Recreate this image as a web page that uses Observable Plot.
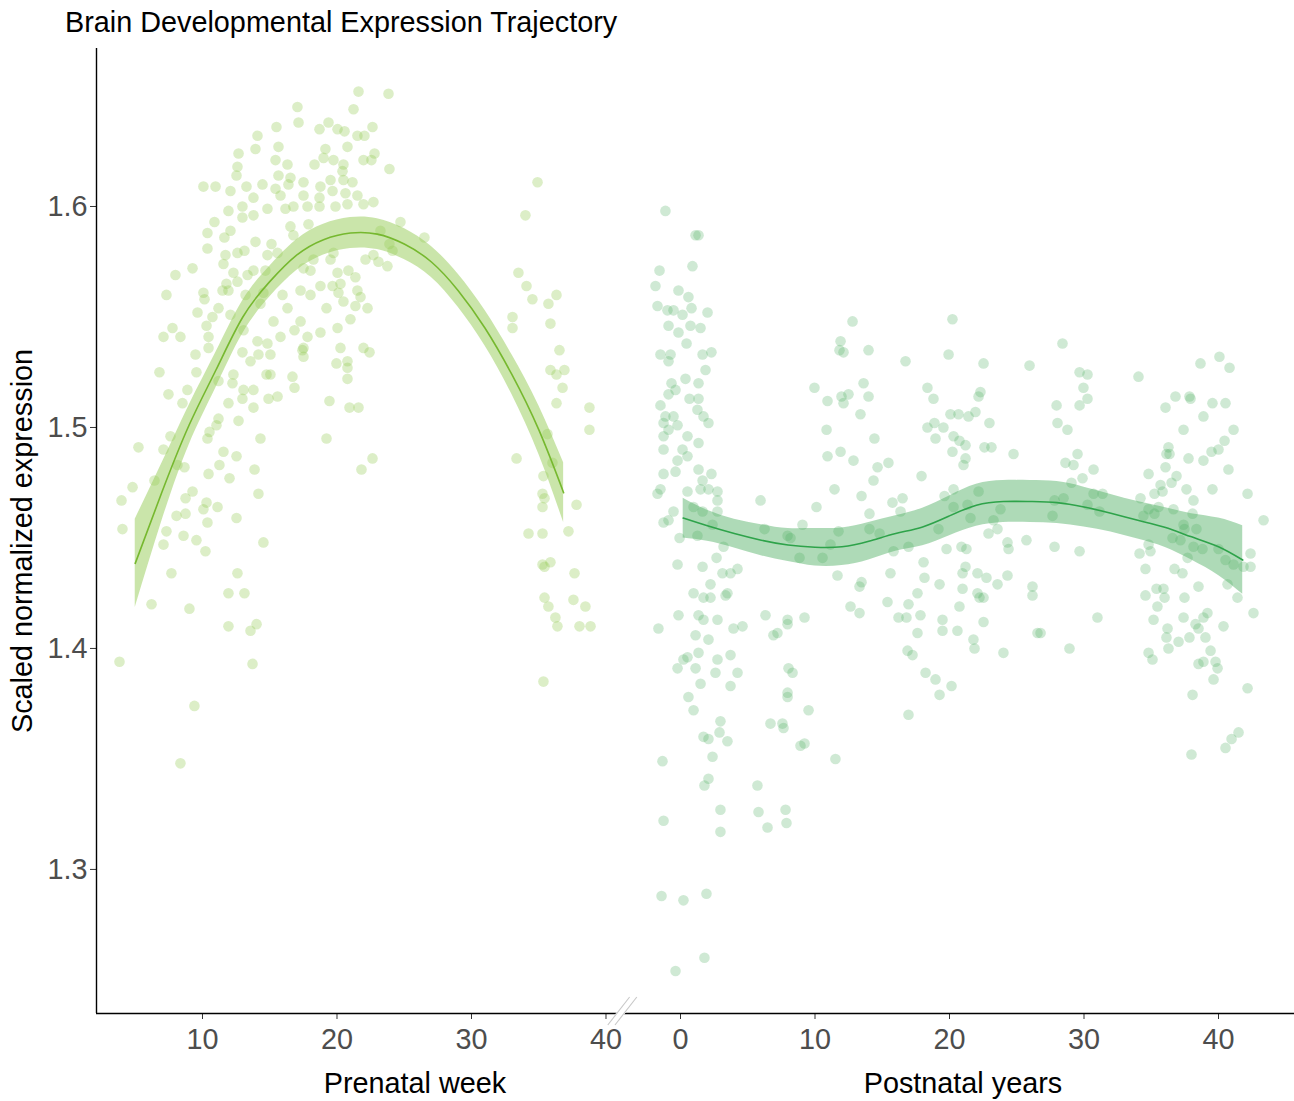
<!DOCTYPE html>
<html>
<head>
<meta charset="utf-8">
<script src="https://cdn.jsdelivr.net/npm/d3@7"></script>
<script src="https://cdn.jsdelivr.net/npm/@observablehq/plot@0.6"></script>
<style>
  body { margin: 0; background: #fff; font-family: "Liberation Sans", Arial, Helvetica, sans-serif; }
  #title { height: 44px; line-height: 44px; padding-left: 65px; font-size: 28.8px; color: #000; white-space: nowrap; }
  #chart svg { display: block; }
</style>
</head>
<body>
<div id="title">Brain Developmental Expression Trajectory</div>
<div id="chart"></div>
<script>
// ---- text ----
const yTitle = "Scaled normalized expression";
const prenatalTitle = "Prenatal week";
const postnatalTitle = "Postnatal years";

// ---- ticks ----
const yTickValues = [1.3, 1.4, 1.5, 1.6];
const prenatalTicks = [10, 20, 30, 40];
const postnatalTicks = [0, 10, 20, 30, 40];

// ---- prenatal samples: [week, scaled expression] ----
const prenatalSamples = [
  [21.6,1.652],[23.83,1.651],[21.23,1.644],[17.06,1.645],[17.14,1.638],[15.5,1.636],[14.09,1.632],[13.94,1.626],[15.65,1.627],[12.68,1.624],
  [12.6,1.618],[12.53,1.614],[18.7,1.635],[19.37,1.638],[20.04,1.635],[20.56,1.634],[22.64,1.636],[21.52,1.632],[22.04,1.632],[19.14,1.626],
  [20.78,1.627],[22.79,1.624],[19.0,1.622],[19.74,1.621],[21.97,1.621],[22.56,1.621],[23.9,1.617],[15.43,1.621],[16.32,1.619],[18.33,1.619],
  [20.48,1.619],[20.41,1.616],[15.65,1.614],[16.54,1.613],[10.07,1.609],[10.97,1.609],[12.08,1.607],[13.27,1.609],[14.46,1.61],[15.43,1.608],
  [16.39,1.61],[17.51,1.611],[18.77,1.609],[19.52,1.612],[20.48,1.612],[21.15,1.611],[15.8,1.605],[17.51,1.605],[18.7,1.604],[19.67,1.607],
  [20.63,1.606],[21.52,1.605],[13.79,1.604],[14.83,1.599],[11.93,1.598],[12.97,1.6],[12.97,1.595],[13.79,1.596],[16.17,1.599],[16.76,1.6],
  [17.81,1.6],[18.7,1.6],[19.89,1.6],[20.78,1.601],[21.97,1.601],[22.71,1.602],[10.89,1.593],[12.08,1.589],[11.63,1.586],[10.37,1.588],
  [10.37,1.581],[13.94,1.584],[15.13,1.583],[16.54,1.591],[17.88,1.592],[16.76,1.587],[15.58,1.579],[14.83,1.578],[11.71,1.578],[12.6,1.579],
  [13.12,1.58],[11.56,1.574],[9.26,1.572],[7.99,1.569],[7.32,1.56],[10.07,1.561],[10.15,1.558],[12.3,1.57],[13.35,1.569],[13.79,1.571],
  [14.68,1.571],[17.51,1.572],[18.03,1.571],[18.25,1.576],[19.74,1.579],[19.52,1.576],[20.04,1.57],[20.85,1.571],[21.37,1.568],[22.12,1.576],
  [22.71,1.578],[23.75,1.573],[11.78,1.565],[12.6,1.566],[11.49,1.562],[11.93,1.562],[13.2,1.56],[14.31,1.556],[14.53,1.561],[15.95,1.56],
  [17.29,1.562],[18.03,1.56],[18.77,1.564],[19.67,1.564],[20.26,1.565],[20.11,1.561],[21.52,1.562],[21.75,1.559],[22.27,1.554],[20.48,1.557],
  [21.37,1.555],[11.19,1.554],[9.63,1.552],[10.3,1.546],[10.74,1.55],[12.08,1.551],[15.28,1.548],[16.32,1.554],[17.29,1.548],[19.22,1.554],
  [21.0,1.549],[7.77,1.545],[7.1,1.541],[8.36,1.541],[10.45,1.541],[13.05,1.544],[14.09,1.539],[14.83,1.538],[15.8,1.541],[16.84,1.544],
  [17.81,1.541],[18.77,1.543],[20.04,1.545],[21.97,1.536],[22.42,1.534],[9.48,1.533],[10.45,1.536],[12.97,1.534],[14.16,1.533],[15.05,1.533],
  [17.43,1.535],[20.26,1.536],[23.9,1.583],[26.5,1.586],[23.23,1.589],[24.13,1.58],[24.72,1.593],[23.08,1.575],
  [34.91,1.611],[34.01,1.596],[33.49,1.57],[34.09,1.564],[34.53,1.558],[35.72,1.556],[36.32,1.56],[33.05,1.55],[33.05,1.545],[35.87,1.547],
  [36.54,1.535],[35.87,1.526],[36.91,1.526],[36.32,1.524],[36.77,1.518],[36.32,1.511],[38.77,1.509],[38.77,1.499],[33.35,1.486],[35.65,1.497],
  [36.02,1.484],[35.35,1.478],[35.28,1.47],[35.43,1.468],[35.28,1.464],[37.81,1.465],[34.24,1.452],[35.28,1.452],[37.21,1.453],[35.28,1.438],
  [35.87,1.439],[35.43,1.437],[37.66,1.434],[35.43,1.423],[35.72,1.419],[37.58,1.422],[38.47,1.419],[36.24,1.414],[36.39,1.41],[38.03,1.41],
  [38.85,1.41],[35.35,1.385],
  [6.8,1.525],[9.55,1.525],[7.47,1.515],[8.88,1.517],[8.51,1.511],[5.24,1.491],[7.1,1.49],[7.62,1.496],[6.43,1.476],[4.8,1.473],
  [3.98,1.467],[4.05,1.454],[8.66,1.482],[8.14,1.483],[10.37,1.495],[10.52,1.498],[11.04,1.501],[11.19,1.504],[11.56,1.489],[12.53,1.487],
  [11.26,1.483],[10.45,1.479],[12.01,1.477],[12.68,1.503],[13.87,1.481],[14.31,1.495],[14.16,1.47],[9.26,1.471],[8.74,1.468],[8.07,1.46],
  [8.74,1.461],[10.07,1.463],[10.3,1.466],[11.12,1.464],[10.37,1.457],[12.53,1.459],[7.32,1.453],[8.59,1.451],[7.1,1.447],[9.55,1.449],
  [10.22,1.444],[14.53,1.448],[7.69,1.434],[12.6,1.434],[11.93,1.425],[13.12,1.425],[6.21,1.42],[9.03,1.418],[11.93,1.41],[14.02,1.411],
  [13.57,1.408],[3.83,1.394],[13.72,1.393],[9.4,1.374],[8.36,1.348],
  [11.93,1.511],[12.97,1.513],[13.79,1.509],[14.91,1.513],[15.58,1.514],[13.05,1.517],[13.79,1.517],[12.23,1.52],[12.3,1.524],[11.19,1.521],
  [15.05,1.524],[16.69,1.523],[16.84,1.518],[19.44,1.512],[19.22,1.495],[20.93,1.509],[21.6,1.509],[19.96,1.529],[20.78,1.53],[20.78,1.527],
  [20.78,1.522],[21.82,1.481],[22.64,1.486],[17.51,1.536],[17.51,1.532],[13.57,1.53],[14.76,1.524]
];

// ---- postnatal samples: [years, scaled expression] ----
const postnatalSamples = [
  [-1.12,1.598],[1.12,1.587],[1.34,1.587],[-1.56,1.571],[0.89,1.573],[-1.86,1.564],[-0.15,1.562],[0.59,1.559],[-1.71,1.555],[-0.97,1.553],
  [-0.52,1.553],[0.15,1.551],[0.82,1.554],[2.01,1.552],[-0.89,1.546],[-0.15,1.543],[0.74,1.546],[1.49,1.545],[0.45,1.538],[-1.49,1.533],
  [-0.74,1.533],[-0.89,1.53],[1.64,1.533],[2.3,1.534],[1.86,1.526],[-0.67,1.52],[0.37,1.522],[1.34,1.52],[-0.89,1.515],[-0.37,1.517],
  [0.67,1.513],[1.34,1.513],[-1.49,1.51],[1.26,1.508],[-1.12,1.505],[-0.52,1.505],[1.71,1.505],[2.08,1.502],[-1.26,1.502],[-0.22,1.501],
  [-1.26,1.496],[0.52,1.496],[-0.89,1.499],[1.34,1.493],[-1.26,1.49],[0.15,1.49],[-0.22,1.485],[0.52,1.487],[-1.26,1.479],[-0.37,1.48],
  [1.34,1.481],[2.3,1.479],[1.64,1.476],[-1.49,1.472],[0.52,1.471],[1.49,1.472],[2.08,1.472],[2.75,1.471],[-1.71,1.47],[2.75,1.467],
  [-0.52,1.462],[-1.26,1.457],[-0.89,1.458],[2.75,1.462],[0.97,1.464],[1.64,1.462],[5.95,1.467],[2.38,1.456],[1.26,1.451],[-0.07,1.45],
  [3.2,1.446],[6.25,1.454],[7.96,1.451],[2.68,1.441],[-0.22,1.438],[1.64,1.437],[3.12,1.434],[3.72,1.434],[4.24,1.436],[2.23,1.429],
  [0.97,1.425],[1.71,1.423],[2.23,1.423],[3.35,1.424],[3.49,1.425],[-0.15,1.415],[1.34,1.415],[1.71,1.413],[2.75,1.413],[3.94,1.409],
  [4.61,1.41],[6.32,1.415],[-1.64,1.409],[1.12,1.406],[2.08,1.404],[6.91,1.406],[7.21,1.407],[7.96,1.413],[1.34,1.398],[2.75,1.395],
  [3.72,1.397],[-0.22,1.391],[0.22,1.395],[0.52,1.396],[1.12,1.391],[2.6,1.389],[4.24,1.389],[1.49,1.384],[3.72,1.383],[0.59,1.378],
  [0.97,1.372],[8.03,1.391],[7.96,1.38],[6.69,1.366],[7.58,1.366],[2.97,1.367],[1.71,1.36],[2.08,1.359],[2.9,1.362],[3.49,1.358],
  [2.38,1.351],[-1.34,1.349],[2.08,1.341],[1.78,1.338],[5.72,1.338],[2.97,1.327],[5.8,1.326],[7.81,1.327],[-1.26,1.322],[2.97,1.317],
  [6.47,1.319],[7.88,1.321],[-1.41,1.288],[0.22,1.286],[1.93,1.289],[1.78,1.26],[-0.37,1.254],
  [12.79,1.548],[20.22,1.549],[11.9,1.539],[11.82,1.535],[12.12,1.534],[13.98,1.535],[16.73,1.53],[19.93,1.533],[22.53,1.529],[25.95,1.528],
  [9.96,1.518],[13.61,1.52],[11.97,1.514],[12.49,1.515],[12.12,1.511],[13.98,1.514],[10.93,1.512],[13.38,1.506],[18.36,1.518],[18.81,1.513],
  [22.3,1.516],[22.16,1.514],[20.07,1.506],[20.67,1.506],[21.41,1.505],[21.93,1.507],[22.97,1.502],[18.36,1.5],[18.88,1.502],[19.55,1.5],
  [10.86,1.499],[14.42,1.495],[18.96,1.495],[20.3,1.496],[20.74,1.494],[21.19,1.492],[22.6,1.491],[23.12,1.491],[10.93,1.487],[11.9,1.489],
  [12.86,1.485],[20.22,1.489],[21.19,1.486],[21.04,1.483],[24.76,1.488],[14.65,1.482],[15.46,1.484],[14.35,1.476],[17.92,1.478],[11.45,1.472],
  [13.46,1.469],[15.76,1.466],[16.51,1.468],[16.36,1.462],[19.63,1.469],[20.3,1.472],[22.16,1.471],[10.11,1.464],[14.05,1.461],[20.3,1.464],
  [21.34,1.465],[21.56,1.459],[23.79,1.463],[23.27,1.458],[23.57,1.454],[22.9,1.452],[9.07,1.456],[8.18,1.45],[11.75,1.453],[14.05,1.454],
  [14.8,1.452],[11.15,1.447],[19.18,1.454],[19.78,1.445],[20.89,1.446],[21.26,1.445],[24.31,1.448],[24.39,1.445],[25.72,1.449],[8.85,1.441],
  [10.56,1.441],[15.84,1.444],[16.95,1.446],[11.67,1.433],[13.46,1.43],[13.31,1.428],[15.61,1.434],[18.07,1.439],[18.14,1.432],[19.26,1.429],
  [21.19,1.437],[20.97,1.434],[22.08,1.434],[22.75,1.432],[23.57,1.429],[24.31,1.433],[26.17,1.428],[20.97,1.427],[26.17,1.424],[17.62,1.425],
  [22.08,1.425],[22.23,1.423],[22.53,1.423],[12.64,1.419],[13.31,1.416],[15.39,1.421],[16.95,1.42],[20.74,1.419],[16.21,1.414],[16.8,1.414],
  [17.84,1.415],[9.22,1.414],[7.96,1.411],[19.48,1.413],[19.48,1.408],[20.59,1.408],[22.53,1.412],[17.62,1.407],[26.54,1.407],[21.78,1.404],
  [21.86,1.4],[24.01,1.398],[16.88,1.399],[17.25,1.397],[8.33,1.389],[18.22,1.389],[18.96,1.386],[20.15,1.383],[19.26,1.379],[7.96,1.378],
  [9.52,1.372],[16.95,1.37],[7.66,1.364],[8.92,1.356],[9.22,1.357],[11.52,1.35],
  [28.4,1.538],[38.66,1.529],[40.07,1.532],[40.82,1.527],[29.67,1.525],[30.26,1.524],[34.05,1.523],[29.96,1.518],[30.26,1.513],[29.67,1.51],
  [27.96,1.51],[36.8,1.514],[37.84,1.514],[37.92,1.513],[36.06,1.509],[39.55,1.511],[40.52,1.511],[38.88,1.505],[28.03,1.502],[28.77,1.499],
  [37.4,1.499],[41.12,1.499],[40.45,1.494],[36.28,1.491],[40.0,1.49],[39.48,1.489],[36.13,1.488],[36.36,1.488],[37.77,1.486],[38.88,1.485],
  [29.52,1.488],[28.62,1.484],[29.22,1.483],[36.06,1.482],[40.74,1.481],[30.71,1.481],[34.8,1.479],[29.07,1.475],[29.89,1.477],[36.88,1.478],
  [36.51,1.475],[35.69,1.474],[37.62,1.472],[39.55,1.472],[42.16,1.47],[30.71,1.47],[31.38,1.47],[34.2,1.468],[35.24,1.47],[35.84,1.471],
  [38.14,1.467],[43.35,1.458],[27.81,1.467],[28.48,1.468],[30.26,1.465],[31.15,1.462],[34.8,1.463],[35.54,1.464],[36.65,1.463],[38.07,1.461],
  [27.66,1.46],[34.42,1.46],[35.24,1.461],[37.4,1.456],[37.47,1.454],[38.36,1.454],[36.58,1.45],[37.17,1.449],[34.8,1.447],[38.14,1.446],
  [38.81,1.445],[34.94,1.444],[34.13,1.443],[37.7,1.441],[27.81,1.446],[29.67,1.444],[40.0,1.445],[42.38,1.443],[40.52,1.44],[41.12,1.438],
  [41.86,1.437],[42.38,1.437],[34.57,1.436],[36.73,1.436],[37.32,1.434],[40.67,1.429],[38.51,1.428],[34.57,1.424],[35.39,1.427],[35.91,1.427],
  [35.99,1.423],[37.47,1.423],[41.41,1.423],[35.46,1.419],[42.6,1.416],[35.17,1.413],[37.4,1.414],[39.18,1.416],[38.88,1.414],[40.37,1.41],
  [31.0,1.414],[36.21,1.409],[36.13,1.405],[38.29,1.411],[38.51,1.409],[26.77,1.407],[37.03,1.403],[37.84,1.405],[36.28,1.4],[39.03,1.405],
  [39.41,1.399],[28.92,1.4],[34.8,1.398],[35.09,1.395],[38.51,1.393],[38.88,1.394],[39.78,1.394],[39.93,1.391],[39.63,1.386],[42.16,1.382],
  [38.07,1.379],[41.49,1.362],[40.97,1.359],[40.52,1.355],[37.99,1.352]
];

// ---- smoothed trajectories with confidence band ----
const prenatalFitWeek = [5, 7, 9, 11, 13, 15, 17, 19, 21, 23, 25, 27, 29, 31, 33, 35, 36.85];
const prenatalFitMid  = [1.4385, 1.471, 1.501, 1.526, 1.550, 1.566, 1.578, 1.585, 1.588, 1.5875, 1.583, 1.575, 1.562, 1.545, 1.524, 1.499, 1.4705];
const prenatalFitLow  = [1.4185, 1.458, 1.492, 1.518, 1.5425, 1.559, 1.571, 1.578, 1.581, 1.5805, 1.576, 1.568, 1.5545, 1.537, 1.515, 1.488, 1.457];
const prenatalFitHigh = [1.4585, 1.484, 1.510, 1.534, 1.5575, 1.573, 1.585, 1.592, 1.595, 1.5945, 1.590, 1.582, 1.5695, 1.553, 1.533, 1.510, 1.484];

const postnatalFitYear = [0.2, 2, 4, 6, 8, 10, 12, 14, 16, 18, 20, 22, 24, 26, 28, 30, 32, 34, 36, 38, 40, 41.8];
const postnatalFitMid  = [1.459, 1.4555, 1.452, 1.449, 1.4468, 1.4458, 1.446, 1.4485, 1.452, 1.455, 1.460, 1.4648, 1.4665, 1.4665, 1.466, 1.464, 1.4612, 1.458, 1.4548, 1.4505, 1.446, 1.440];
const postnatalFitLow  = [1.450, 1.4485, 1.4455, 1.442, 1.4393, 1.4373, 1.4375, 1.440, 1.444, 1.4465, 1.451, 1.4553, 1.457, 1.457, 1.4565, 1.455, 1.4527, 1.4495, 1.4458, 1.440, 1.433, 1.4245];
const postnatalFitHigh = [1.468, 1.4625, 1.4585, 1.456, 1.4543, 1.4543, 1.4545, 1.457, 1.460, 1.4635, 1.469, 1.4743, 1.476, 1.476, 1.4755, 1.473, 1.4697, 1.4665, 1.4638, 1.461, 1.459, 1.4555];

// ---- layout ----
const FONT = '"Liberation Sans", Arial, Helvetica, sans-serif';
const FONT_SIZE = 28.8;
const WIDTH = 1294;
const HEIGHT = 1101 - 44;
const MARGIN = {top: 4, right: 0, bottom: 88, left: 96};

const PRE_COLOR = "#95cb55";
const POST_COLOR = "#4cae60";

// One shared x axis: weeks before the break, years (shifted) after it.
const PRE_LIMITS = [2.12, 40.6];
const POST_LIMITS = [-4.17, 45.65];
const POST_OFFSET = 45.54;
const toAxis = yr => POST_OFFSET + yr;
const X_DOMAIN = [PRE_LIMITS[0], toAxis(POST_LIMITS[1])];
const BREAK_AT = (PRE_LIMITS[1] + toAxis(POST_LIMITS[0])) / 2;
const Y_DOMAIN = [1.2348, 1.6715];

const xTickValues = [...prenatalTicks, ...postnatalTicks.map(toAxis)];
const xTickFormat = v => String(Math.round(v < BREAK_AT ? v : v - POST_OFFSET));

const prenatalFit = prenatalFitWeek.map((w, i) => ({x: w, mid: prenatalFitMid[i], lo: prenatalFitLow[i], hi: prenatalFitHigh[i]}));
const postnatalFit = postnatalFitYear.map((yr, i) => ({x: toAxis(yr), mid: postnatalFitMid[i], lo: postnatalFitLow[i], hi: postnatalFitHigh[i]}));

// Axis break: two light slanted strokes with the axis line cut between them.
function axisBreak(index, scales, values, dims) {
  const ns = "http://www.w3.org/2000/svg";
  const sx = scales && scales.x ? scales.x
    : d3.scaleLinear(X_DOMAIN, [MARGIN.left, WIDTH - MARGIN.right]);
  const cx = sx(BREAK_AT) + 2;
  const cy = HEIGHT - MARGIN.bottom;
  const slope = 0.78, below = 12, above = 16, half = 3.6;
  const px = (off, y) => cx + off + (cy - y) * slope;
  const g = document.createElementNS(ns, "g");
  const cut = document.createElementNS(ns, "path");
  const y0 = cy + below, y1 = cy - above;
  cut.setAttribute("d", `M${px(-half - 1, y0)},${y0}L${px(-half - 1, y1)},${y1}L${px(half + 1, y1)},${y1}L${px(half + 1, y0)},${y0}Z`);
  cut.setAttribute("fill", "#fff");
  g.appendChild(cut);
  for (const off of [-half, half]) {
    const l = document.createElementNS(ns, "line");
    l.setAttribute("x1", px(off, y0)); l.setAttribute("y1", y0);
    l.setAttribute("x2", px(off, y1)); l.setAttribute("y2", y1);
    l.setAttribute("stroke", "#c8c8c8");
    l.setAttribute("stroke-width", 1.1);
    g.appendChild(l);
  }
  return g;
}

const chart = Plot.plot({
  width: WIDTH,
  height: HEIGHT,
  marginTop: MARGIN.top,
  marginRight: MARGIN.right,
  marginBottom: MARGIN.bottom,
  marginLeft: MARGIN.left,
  style: {fontFamily: FONT, background: "#fff", overflow: "visible"},
  x: {domain: X_DOMAIN},
  y: {domain: Y_DOMAIN},
  marks: [
    Plot.dot(prenatalSamples, {x: d => d[0], y: d => d[1], r: 5.3, fill: PRE_COLOR, fillOpacity: 0.33, stroke: null}),
    Plot.dot(postnatalSamples, {x: d => toAxis(d[0]), y: d => d[1], r: 5.3, fill: POST_COLOR, fillOpacity: 0.27, stroke: null}),
    Plot.areaY(prenatalFit, {x: "x", y1: "lo", y2: "hi", fill: PRE_COLOR, fillOpacity: 0.5, curve: "natural"}),
    Plot.line(prenatalFit, {x: "x", y: "mid", stroke: "#76b82f", strokeWidth: 1.6, curve: "natural"}),
    Plot.areaY(postnatalFit, {x: "x", y1: "lo", y2: "hi", fill: POST_COLOR, fillOpacity: 0.45, curve: "natural"}),
    Plot.line(postnatalFit, {x: "x", y: "mid", stroke: "#2ea34a", strokeWidth: 1.6, curve: "natural"}),
    Plot.axisY({ticks: yTickValues, tickFormat: d3.format(".1f"), tickSize: 6, tickPadding: 3,
      fontSize: FONT_SIZE, fill: "#4d4d4d", stroke: "#333", label: null}),
    Plot.axisX({ticks: xTickValues, tickFormat: xTickFormat, tickSize: 6, tickPadding: 9,
      fontSize: FONT_SIZE, fill: "#4d4d4d", stroke: "#333", label: null}),
    Plot.ruleX([X_DOMAIN[0]], {stroke: "#000", strokeWidth: 1.4}),
    Plot.ruleY([Y_DOMAIN[0]], {stroke: "#000", strokeWidth: 1.4}),
    axisBreak,
    Plot.text([yTitle], {frameAnchor: "left", textAnchor: "middle", lineAnchor: "middle", rotate: -90,
      dx: -74, dy: 10, fontSize: FONT_SIZE, fill: "#000"}),
    Plot.text([{label: prenatalTitle, x: 25.8}, {label: postnatalTitle, x: toAxis(21)}],
      {x: "x", text: "label", frameAnchor: "bottom", lineAnchor: "middle", dy: 70, fontSize: FONT_SIZE, fill: "#000"})
  ]
});

document.getElementById("chart").appendChild(chart);
</script>
</body>
</html>
